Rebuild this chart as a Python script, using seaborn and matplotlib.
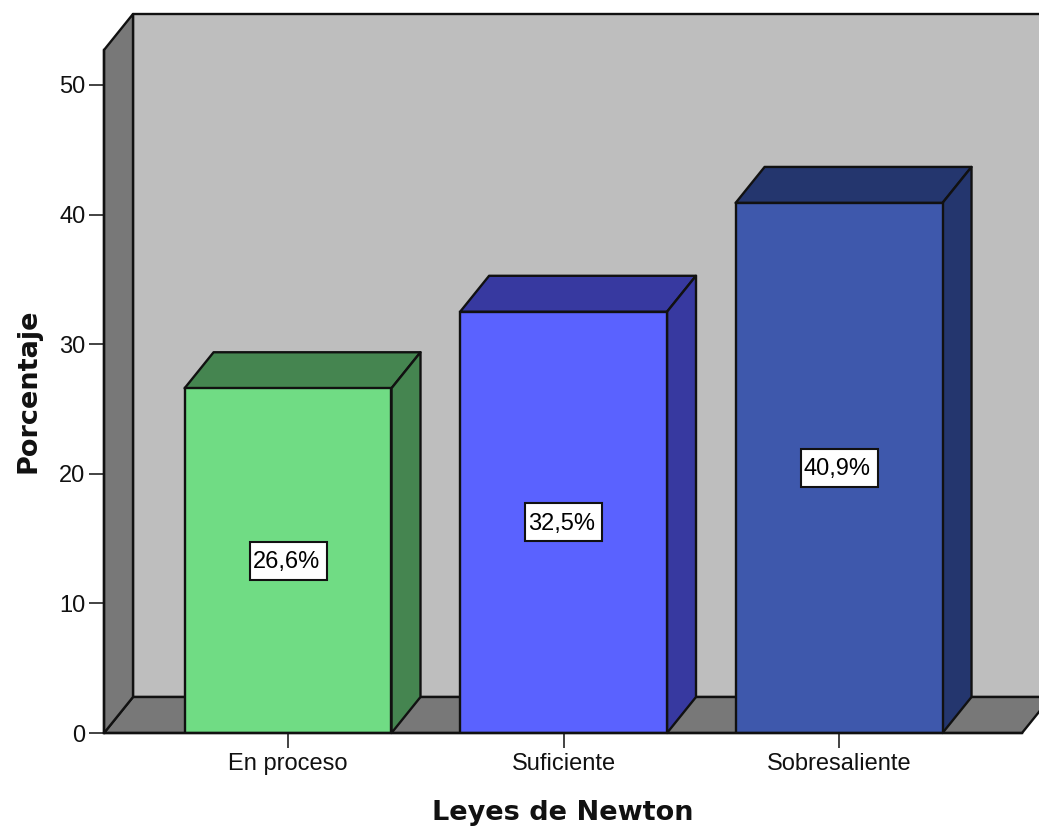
import matplotlib
matplotlib.use("Agg")
import matplotlib.pyplot as plt
from matplotlib.patches import Polygon, Rectangle
import pandas as pd
import seaborn as sns

categories = ["En proceso", "Suficiente", "Sobresaliente"]
percentages = [26.6, 32.5, 40.9]
value_labels = ["26,6%", "32,5%", "40,9%"]
y_ticks = [0, 10, 20, 30, 40, 50]
front_colors = ["#70DC84", "#5A62FF", "#3E58AC"]
shade_colors = ["#458550", "#3739A0", "#24366E"]

WALL = "#BEBEBE"
FLOOR = "#787878"
EDGE = "#111111"
DEPTH_X_PX, DEPTH_Y_PX = 29, 36
LABEL_BOX_PX = (77, 38)
LW = 1.7

sns.set_theme(style="white", rc={"font.family": ["Liberation Sans", "DejaVu Sans"]})

W, H = 1039, 827
fig = plt.figure(figsize=(W / 100, H / 100), dpi=100, facecolor="white")
ax = fig.add_axes([104 / W, 94 / H, 918 / W, 683 / H])

df = pd.DataFrame({"categoria": categories, "porcentaje": percentages})
sns.barplot(
    data=df, x="categoria", y="porcentaje", hue="categoria", order=categories,
    hue_order=categories, palette=front_colors, saturation=1, width=0.751,
    legend=False, edgecolor=EDGE, linewidth=LW, ax=ax, zorder=5,
)
ax.set_xlim(-0.668, 2.664)
ax.set_ylim(0, 52.7)
ax.set_yticks(y_ticks)

# Conversion from pixels to data units, for the extrusion depth and label boxes
px_x = (ax.get_xlim()[1] - ax.get_xlim()[0]) / 918
px_y = (ax.get_ylim()[1] - ax.get_ylim()[0]) / 683
ddx = DEPTH_X_PX * px_x
ddy = DEPTH_Y_PX * px_y


def face(points, color, z):
    ax.add_patch(Polygon(points, closed=True, facecolor=color, edgecolor=EDGE,
                         linewidth=LW, joinstyle="round", clip_on=False, zorder=z))


x0, x1 = ax.get_xlim()
y0, y1 = ax.get_ylim()

# Back wall, floor and left wall of the chart box
face([(x0 + ddx, y0 + ddy), (x1 + ddx, y0 + ddy), (x1 + ddx, y1 + ddy), (x0 + ddx, y1 + ddy)], WALL, 1)
face([(x0, y0), (x1, y0), (x1 + ddx, y0 + ddy), (x0 + ddx, y0 + ddy)], FLOOR, 2)
face([(x0, y0), (x0 + ddx, y0 + ddy), (x0 + ddx, y1 + ddy), (x0, y1)], FLOOR, 2)

# Top and side faces of each bar, plus its value label
box_w, box_h = LABEL_BOX_PX[0] * px_x, LABEL_BOX_PX[1] * px_y
for bar, shade, label in zip(ax.patches, shade_colors, value_labels):
    left, right = bar.get_x(), bar.get_x() + bar.get_width()
    top = bar.get_height()
    center = (left + right) / 2
    face([(left, top), (right, top), (right + ddx, top + ddy), (left + ddx, top + ddy)], shade, 4)
    face([(right, 0), (right + ddx, ddy), (right + ddx, top + ddy), (right, top)], shade, 4)
    ax.add_patch(Rectangle((center - box_w / 2, top / 2 - box_h / 2), box_w, box_h,
                           facecolor="white", edgecolor=EDGE, linewidth=1.5, zorder=7))
    ax.text(center - 2 * px_x, top / 2 - 1.5 * px_y, label, ha="center", va="center",
            fontsize=17, color="black", zorder=8)

for side in ("top", "right"):
    ax.spines[side].set_visible(False)
for side in ("left", "bottom"):
    ax.spines[side].set_color(EDGE)
    ax.spines[side].set_linewidth(LW)
    ax.spines[side].set_zorder(6)

ax.tick_params(axis="both", which="major", length=10.5, width=1.2, color="#222222",
               labelcolor="#111111", labelsize=17, left=True, bottom=True)
ax.tick_params(axis="y", pad=3)
ax.tick_params(axis="x", pad=4)

ax.set_xlabel("Leyes de Newton", fontsize=19.5, fontweight="bold", color="#111111",
              family="DejaVu Sans")
ax.set_ylabel("Porcentaje", fontsize=19.5, fontweight="bold", color="#111111",
              family="DejaVu Sans")
ax.xaxis.set_label_coords((563 - 104) / 918, (733 - 820) / 683)
ax.xaxis.label.set_verticalalignment("baseline")
ax.yaxis.set_label_coords((35 - 104) / 918, (733 - 391) / 683)
ax.yaxis.label.set_verticalalignment("baseline")

fig.savefig("out.png", dpi=100, facecolor="white")
